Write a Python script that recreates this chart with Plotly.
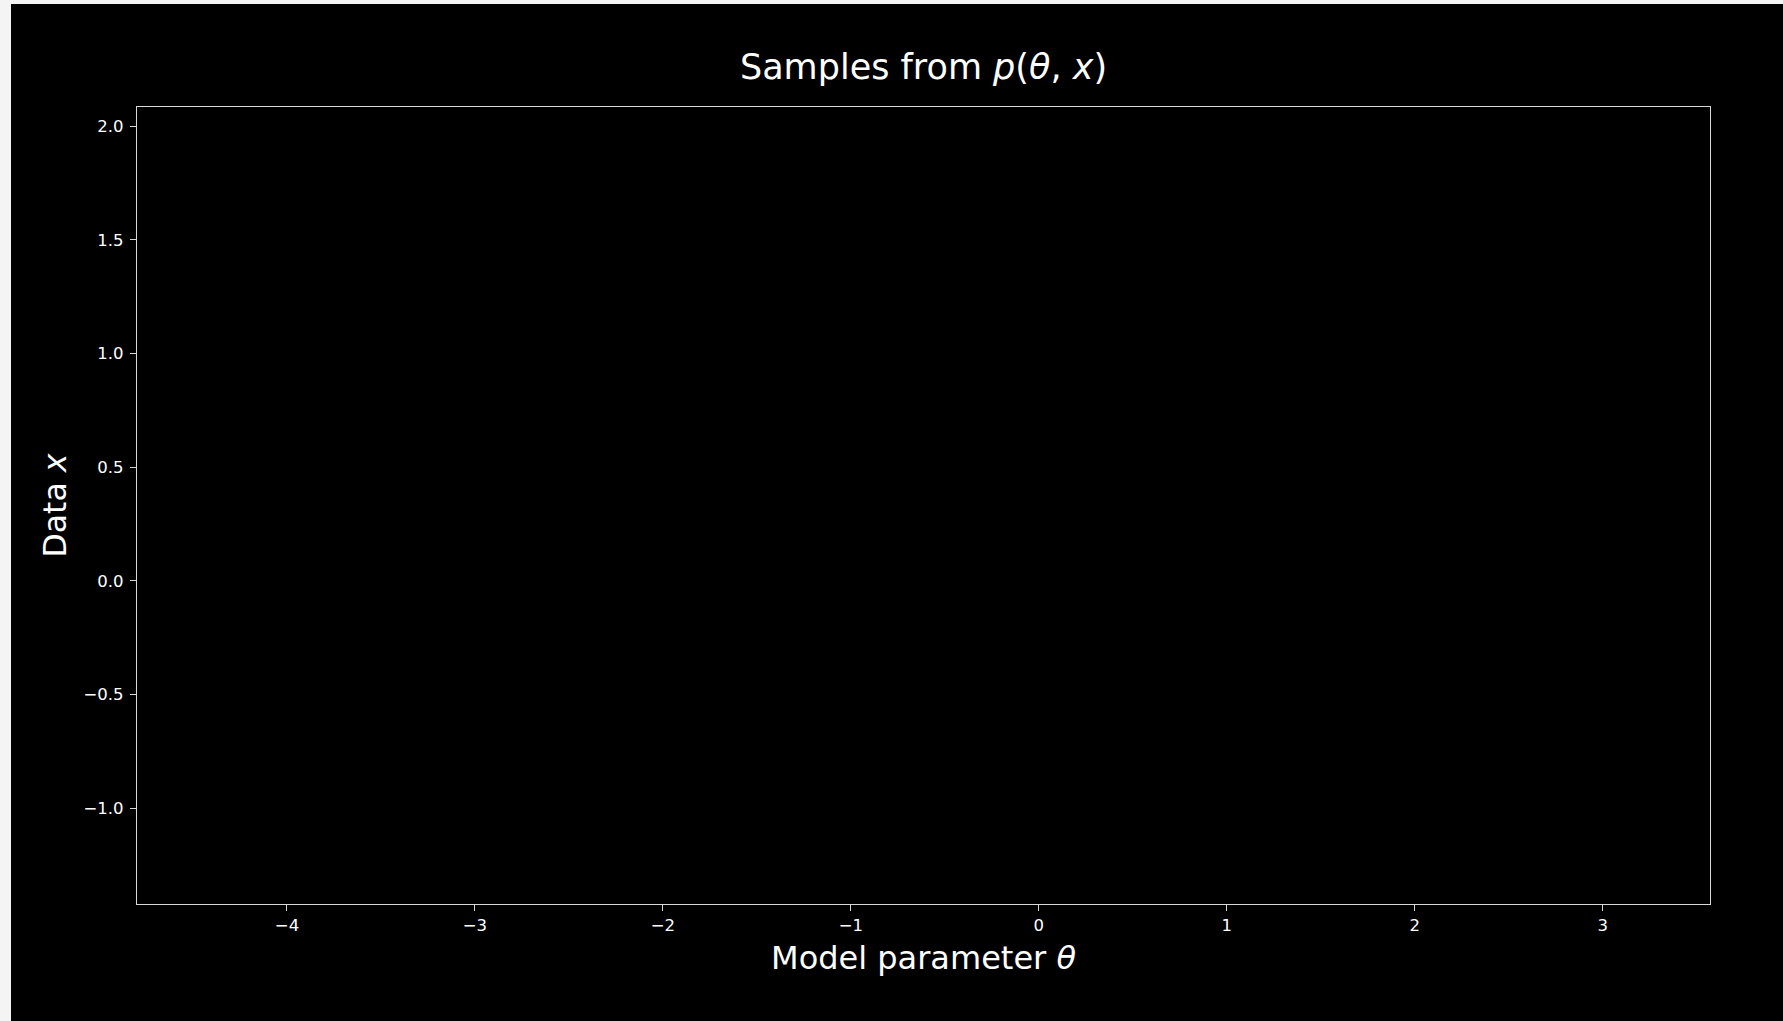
import plotly.graph_objects as go

# Data: the reference panel shows no samples (empty scatter)
theta_samples = []
x_samples = []

x_tick_values = [-4, -3, -2, -1, 0, 1, 2, 3]
y_tick_values = [-1.0, -0.5, 0.0, 0.5, 1.0, 1.5, 2.0]
x_range = [-4.798, 3.571]
y_range = [-1.421, 2.085]

FONT = "DejaVu Sans"
FG = "#ffffff"
LINE = "#d8d8d8"

W, H = 1772, 1017

fig = go.Figure()
fig.add_trace(go.Scatter(x=theta_samples, y=x_samples, mode="markers",
                         marker=dict(color="#1f77b4", size=4), showlegend=False))

fig.update_layout(
    width=W, height=H,
    paper_bgcolor="#000000", plot_bgcolor="#000000",
    margin=dict(l=126, r=73, t=103, b=117, pad=0),
    font=dict(family=FONT, color=FG, size=16.5),
    title=dict(text="Samples from <i>p</i>(<i>θ</i>, <i>x</i>)",
               font=dict(family=FONT, size=35, color=FG),
               x=(126 + (W - 73 - 126) / 2) / W, xanchor="center",
               y=1 - 63 / H, yanchor="middle"),
    showlegend=False,
)

axis_common = dict(
    showgrid=False, zeroline=False,
    showline=True, mirror=True, linecolor=LINE, linewidth=1.3,
    ticks="outside", ticklen=6, tickwidth=1.2, tickcolor=LINE,
    tickfont=dict(family=FONT, size=16.5, color=FG),
)

fig.update_xaxes(
    range=x_range, tickvals=x_tick_values,
    title=dict(text="Model parameter <i>θ</i>", font=dict(family=FONT, size=32, color=FG), standoff=12),
    **axis_common,
)
fig.update_yaxes(
    range=y_range, tickvals=y_tick_values, tickformat=".1f", ticklabelstandoff=3,
    title=dict(text="Data <i>x</i>", font=dict(family=FONT, size=31.5, color=FG), standoff=7),
    **axis_common,
)

post = ("document.body.style.margin='4px 0 0 11px';"
        "document.body.style.background='#f4f4f4';"
        "document.body.style.overflow='hidden';")
fig.write_html("out.html", post_script=post)
